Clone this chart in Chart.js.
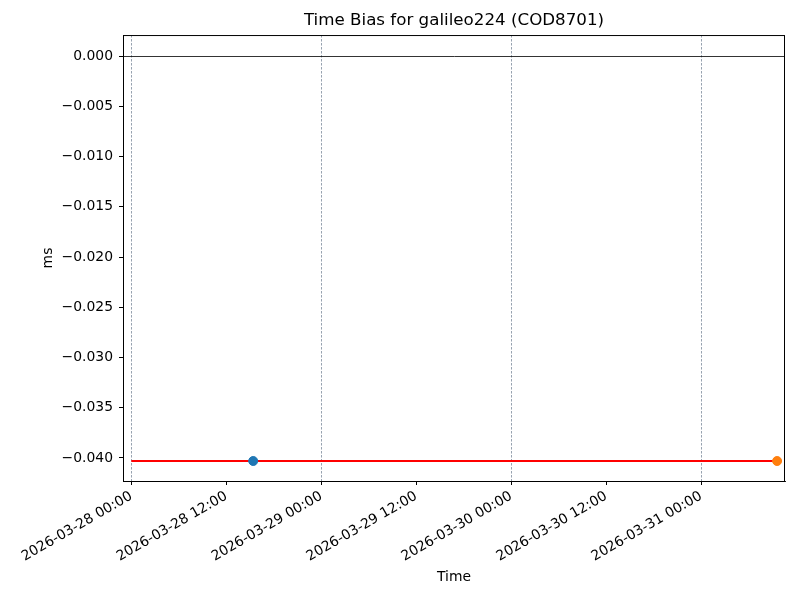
<!DOCTYPE html>
<html>
<head>
<meta charset="utf-8">
<script src="https://cdn.jsdelivr.net/npm/chart.js@4"></script>
<style>
  html, body { margin: 0; padding: 0; background: #fff; }
  #wrap { width: 800px; height: 600px; }
</style>
</head>
<body>
<div id="wrap"><canvas id="chart" width="800" height="600"></canvas></div>
<script>
// time bias data (ms)
const fitTimes = ['2026-03-28 00:00', '2026-03-31 09:36'];
const fitBias = [-0.0403, -0.0403];
const firstTimes = ['2026-03-28 15:24'];
const firstBias = [-0.0403];
const lastTimes = ['2026-03-31 09:36'];
const lastBias = [-0.0403];

const xTickLabels = [
    '2026-03-28 00:00', '2026-03-28 12:00', '2026-03-29 00:00', '2026-03-29 12:00',
    '2026-03-30 00:00', '2026-03-30 12:00', '2026-03-31 00:00'
];
const yTickValues = [0, -0.005, -0.010, -0.015, -0.020, -0.025, -0.030, -0.035, -0.040];

const origin = Date.UTC(2026, 2, 28, 0, 0);
const toHours = (s) => {
    const [d, t] = s.split(' ');
    const [yy, mm, dd] = d.split('-').map(Number);
    const [hh, mi] = t.split(':').map(Number);
    return (Date.UTC(yy, mm - 1, dd, hh, mi) - origin) / 3600000;
};
const pts = (times, vals) => times.map((t, i) => ({ x: toHours(t), y: vals[i] }));
const xTickHours = xTickLabels.map(toHours);

Chart.defaults.font.family = "'DejaVu Sans', sans-serif";
Chart.defaults.color = '#000';

const frame = {
    id: 'frame',
    afterDatasetsDraw(chart) {
        const { ctx, chartArea: a } = chart;
        ctx.save();
        ctx.strokeStyle = '#000';
        ctx.lineWidth = 1;
        ctx.strokeRect(a.left + 0.5, a.top + 0.5, a.right - a.left - 1, a.bottom - a.top);
        ctx.restore();
    }
};

new Chart(document.getElementById('chart'), {
    type: 'line',
    data: {
        datasets: [{
            data: pts(fitTimes, fitBias),
            borderColor: '#ff0000',
            borderWidth: 2,
            pointRadius: 0,
            order: 3
        }, {
            type: 'scatter',
            data: pts(firstTimes, firstBias),
            backgroundColor: '#1f77b4',
            borderColor: '#1f77b4',
            pointRadius: 4.5,
            order: 1
        }, {
            type: 'scatter',
            data: pts(lastTimes, lastBias),
            backgroundColor: '#ff7f0e',
            borderColor: '#ff7f0e',
            pointRadius: 4.5,
            order: 1
        }]
    },
    options: {
        responsive: false,
        animation: false,
        layout: { padding: { left: 0, right: 15, top: 0, bottom: 0 } },
        plugins: {
            legend: { display: false },
            tooltip: { enabled: false },
            title: {
                display: true,
                fullSize: false,
                text: 'Time Bias for galileo224 (COD8701)',
                font: { size: 16.7, weight: 'normal' },
                color: '#000',
                padding: { top: 11, bottom: 4 }
            }
        },
        scales: {
            x: {
                type: 'linear',
                min: -1.05,
                max: 82.6,
                afterBuildTicks: (scale) => { scale.ticks = xTickHours.map(v => ({ value: v })); },
                afterFit: (scale) => { scale.height = 119; },
                ticks: {
                    autoSkip: false,
                    maxRotation: 30,
                    minRotation: 30,
                    padding: 3,
                    font: { size: 13.9 },
                    callback: (v) => xTickLabels[xTickHours.indexOf(v)]
                },
                grid: {
                    color: (c) => (c.tick && c.tick.value % 24 === 0) ? 'rgba(110,125,145,0.9)' : 'rgba(0,0,0,0)',
                    lineWidth: 0.8,
                    tickColor: '#000',
                    tickLength: 4,
                    tickWidth: 1
                },
                border: { color: '#000', width: 1, dash: [2.5, 1.5] },
                title: {
                    display: true,
                    text: 'Time',
                    font: { size: 13.9 },
                    padding: { top: 0, bottom: 14 }
                }
            },
            y: {
                min: -0.04229,
                max: 0.00209,
                afterBuildTicks: (scale) => { scale.ticks = yTickValues.map(v => ({ value: v })); },
                afterFit: (scale) => { scale.width = 123; },
                ticks: {
                    padding: 6,
                    font: { size: 13.9 },
                    callback: (v) => v.toFixed(3).replace('-', '\u2212')
                },
                grid: {
                    color: (c) => (c.tick && c.tick.value === 0) ? '#000' : 'rgba(0,0,0,0)',
                    lineWidth: 0.8,
                    tickColor: '#000',
                    tickLength: 4,
                    tickWidth: 1
                },
                border: { color: '#000', width: 1 },
                title: {
                    display: true,
                    text: 'ms',
                    font: { size: 13.9 },
                    padding: { top: 40, bottom: 0 }
                }
            }
        }
    },
    plugins: [frame]
});
</script>
</body>
</html>
